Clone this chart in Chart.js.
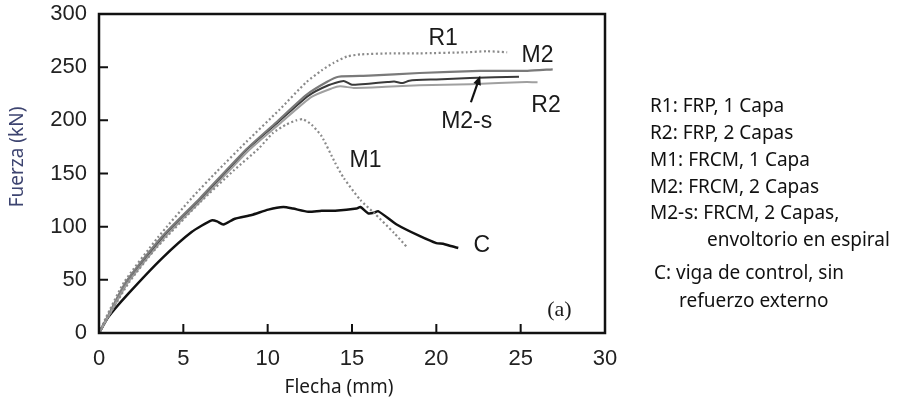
<!DOCTYPE html>
<html>
    <head>
        <meta charset="utf-8">
        <script src="https://cdn.jsdelivr.net/npm/chart.js@4/dist/chart.umd.min.js"></script>
        <style>
            body { margin: 0; background: #fff; }
            #wrap { position: relative; width: 900px; height: 404px; }
            .leg { position: absolute; font-family: "Noto Sans", sans-serif; font-size: 19px; color: #111; white-space: nowrap; line-height: 1; }
        </style>
    </head>
    <body>
        <div id="wrap">
            <canvas id="chart" width="900" height="404"></canvas>
            <div class="leg" style="left:650px;top:96px">R1: FRP, 1 Capa</div>
            <div class="leg" style="left:650px;top:123px">R2: FRP, 2 Capas</div>
            <div class="leg" style="left:650px;top:150px">M1: FRCM, 1 Capa</div>
            <div class="leg" style="left:650px;top:177px">M2: FRCM, 2 Capas</div>
            <div class="leg" style="left:650px;top:203px">M2-s: FRCM, 2 Capas,</div>
            <div class="leg" style="left:707px;top:230px">envoltorio en espiral</div>
            <div class="leg" style="left:654px;top:263px">C: viga de control, sin</div>
            <div class="leg" style="left:679px;top:291px">refuerzo externo</div>
        </div>
        <script>
        // curvas fuerza-flecha: [flecha mm, fuerza kN]
        const r1 = [[0,0],[0.4,14],[1.5,48],[3.5,90],[5.5,127],[7,152],[8.75,180],[10.7,210],[12.3,236],[13.2,247],[13.9,254],[14.7,260],[15.5,262],[17.3,263],[19,263],[21.8,264],[23,265],[24.2,264]];
        const r2 = [[0,0],[0.5,14],[1.7,47],[3.9,90],[6.2,127],[8.9,172],[10.8,198],[12.6,222],[13.8,230],[14.3,232],[15.1,230.5],[17,231.5],[19,233],[22,234],[25.35,236],[26,235.7]];
        const m1 = [[0,0],[0.5,14],[1.8,48],[3.4,80],[6,123],[8,153],[9.5,174],[10.3,188],[11.1,196],[11.7,200],[12.1,201],[12.6,196],[13.2,185],[14,160],[14.5,146],[15.5,125],[16.3,113],[17.5,94],[18.3,80]];
        const m2 = [[0,0],[0.5,15],[1.6,48],[3.7,90],[6,127],[8.75,173],[10.5,198],[12.3,224],[13.5,236],[14.2,241],[16,242],[19,244.5],[22.6,246.5],[25.4,246.5],[26.9,248]];
        const m2s = [[0,0],[0.5,14],[1.7,48],[3.8,90],[6.1,127],[8.8,173],[10.6,198],[12.4,223],[13.6,233],[14.5,237],[15,233.5],[16,234.5],[17.1,236],[17.5,236.5],[18,235],[18.4,237.3],[20,238.5],[22,239.8],[24.9,241]];
        const c = [[0,0],[0.55,15],[1.74,37],[3.72,70],[5.49,95],[6.68,106],[7.0,105],[7.37,102],[8.06,107.5],[9.05,111],[10.04,116],[10.93,118.5],[11.5,117],[12.41,114],[13.2,115],[14,115],[15.27,117],[15.5,118.5],[15.96,112.5],[16.3,113],[16.56,114.5],[17.65,102],[19.03,91],[20,84.5],[20.4,84],[20.8,82],[21.3,80]];

        const xTicks = [0, 5, 10, 15, 20, 25, 30];
        const yTicks = [0, 50, 100, 150, 200, 250, 300];

        // etiquetas dentro del grafico (posicion en unidades de datos)
        const labels = [
            {t: 'R1', x: 20.4, y: 277},
            {t: 'M2', x: 26.0, y: 261},
            {t: 'R2', x: 26.5, y: 214},
            {t: 'M2-s', x: 21.8, y: 199},
            {t: 'M1', x: 15.8, y: 162},
            {t: 'C', x: 22.7, y: 82}
        ];

        const pts = arr => arr.map(p => ({x: p[0], y: p[1]}));

        const decor = {
            id: 'decor',
            afterDatasetsDraw(chart) {
                const ctx = chart.ctx, a = chart.chartArea;
                const xs = chart.scales.x, ys = chart.scales.y;
                ctx.save();
                // marco
                ctx.strokeStyle = '#111';
                ctx.lineWidth = 2.5;
                ctx.strokeRect(a.left, a.top, a.right - a.left, a.bottom - a.top);
                // ticks hacia adentro
                ctx.lineWidth = 2;
                ctx.beginPath();
                xTicks.forEach(v => {
                    const px = xs.getPixelForValue(v);
                    ctx.moveTo(px, a.bottom); ctx.lineTo(px, a.bottom - 9);
                });
                yTicks.forEach(v => {
                    const py = ys.getPixelForValue(v);
                    ctx.moveTo(a.left, py); ctx.lineTo(a.left + 9, py);
                });
                ctx.stroke();
                // etiquetas de curvas
                ctx.fillStyle = '#1a1a1a';
                ctx.font = '23px "Liberation Sans", Arial, sans-serif';
                ctx.textAlign = 'center';
                ctx.textBaseline = 'middle';
                labels.forEach(l => ctx.fillText(l.t, xs.getPixelForValue(l.x), ys.getPixelForValue(l.y)));
                ctx.font = '22px "Liberation Serif", serif';
                ctx.fillText('(a)', xs.getPixelForValue(27.3), ys.getPixelForValue(21));
                // flecha hacia M2-s
                const x0 = xs.getPixelForValue(22.05), y0 = ys.getPixelForValue(217);
                const x1 = xs.getPixelForValue(22.6), y1 = ys.getPixelForValue(242);
                const ang = Math.atan2(y1 - y0, x1 - x0);
                ctx.strokeStyle = '#111';
                ctx.lineWidth = 2.2;
                ctx.beginPath();
                ctx.moveTo(x0, y0);
                ctx.lineTo(x1 - 6 * Math.cos(ang), y1 - 6 * Math.sin(ang));
                ctx.stroke();
                ctx.beginPath();
                ctx.moveTo(x1, y1);
                ctx.lineTo(x1 - 10 * Math.cos(ang - 0.4), y1 - 10 * Math.sin(ang - 0.4));
                ctx.lineTo(x1 - 10 * Math.cos(ang + 0.4), y1 - 10 * Math.sin(ang + 0.4));
                ctx.closePath();
                ctx.fillStyle = '#111';
                ctx.fill();
                // titulos de ejes
                ctx.font = '19px "Noto Sans", sans-serif';
                ctx.fillStyle = '#1a1a1a';
                ctx.fillText('Flecha (mm)', 339, 388);
                ctx.translate(18, 157);
                ctx.rotate(-Math.PI / 2);
                ctx.fillStyle = '#3d4470';
                ctx.fillText('Fuerza (kN)', 0, 0);
                ctx.restore();
            }
        };

        const line = (data, color, width, dash) => ({
            data: pts(data),
            borderColor: color,
            borderWidth: width,
            borderDash: dash || [],
            pointRadius: 0,
            showLine: true,
            fill: false,
            tension: 0.2
        });

        new Chart(document.getElementById('chart'), {
            type: 'scatter',
            data: {
                datasets: [
                    line(r1, '#8a8a8a', 2.2, [2, 2.5]),
                    line(m1, '#8a8a8a', 2.2, [2, 2.5]),
                    line(r2, '#a0a0a0', 2),
                    line(m2, '#7a7a7a', 2.2),
                    line(m2s, '#3a3a3a', 2),
                    line(c, '#111111', 2.5)
                ]
            },
            options: {
                responsive: false,
                devicePixelRatio: 1,
                animation: false,
                layout: { padding: { left: 0, top: 14, right: 295, bottom: 0 } },
                plugins: { legend: { display: false }, tooltip: { enabled: false } },
                scales: {
                    x: {
                        type: 'linear', min: 0, max: 30,
                        grid: { display: false, drawTicks: false },
                        border: { display: false },
                        ticks: { stepSize: 5, padding: 13, color: '#222', font: { family: '"Liberation Sans", Arial, sans-serif', size: 22 } },
                        afterFit(s) { s.height = 71; s.paddingLeft = 0; s.paddingRight = 0; }
                    },
                    y: {
                        type: 'linear', min: 0, max: 300,
                        grid: { display: false, drawTicks: false },
                        border: { display: false },
                        ticks: { stepSize: 50, padding: 12, color: '#222', font: { family: '"Liberation Sans", Arial, sans-serif', size: 22 } },
                        afterFit(s) { s.width = 99; s.paddingTop = 0; s.paddingBottom = 0; }
                    }
                }
            },
            plugins: [decor]
        });
        </script>
    </body>
</html>
